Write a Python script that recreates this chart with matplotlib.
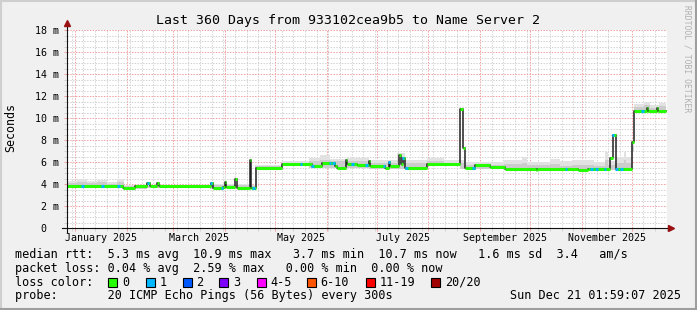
import pandas as pd
import matplotlib
matplotlib.use("Agg")
import matplotlib.pyplot as plt
from matplotlib.patches import Rectangle
from matplotlib.transforms import ScaledTranslation

plt.rcParams["font.family"] = "DejaVu Sans Mono"

W, H = 697, 310
START = pd.Timestamp("2024-12-27 04:00")   # left edge of the 360 day window
SPAN = 360

# median rtt (ms) as a step series: day offset where each level starts
seg_day = [0, 33.6, 40.8, 48, 49.8, 54, 55.2, 86.4, 87.6, 93.6, 94.8, 95.4, 100.8, 102,
           109.5, 110.4, 113.1, 129, 147, 153, 160.8, 162, 167.4, 168, 174, 181.2, 181.8,
           190.8, 193.2, 193.8, 198.9, 200.1, 201.6, 202.5, 216, 235.8, 237.6, 238.8,
           244.8, 253.8, 262.8, 281.4, 282, 306.6, 312.6, 325.8, 327.3, 329.1, 339, 340.2,
           348, 348.6, 354, 354.6]
seg_ms = [3.78, 3.67, 3.78, 4.1, 3.78, 4.1, 3.8, 4.06, 3.66, 3.75, 4.2, 3.75, 4.5, 3.65,
          6.15, 3.66, 5.42, 5.82, 5.66, 5.9, 5.64, 5.42, 6.2, 5.8, 5.73, 6.1, 5.64,
          5.42, 6.03, 5.64, 6.6, 5.8, 6.33, 5.42, 5.82, 10.8, 7.25, 5.45,
          5.7, 5.58, 5.4, 5.27, 5.4, 5.27, 5.4, 6.35, 8.5, 5.4, 7.8, 10.67,
          10.9, 10.67, 10.9, 10.67]
end_day = 359.5

# samples where 1 of 20 pings was lost
loss1_day = [9.3, 21.3, 30.9, 48.6, 86.4, 93, 111.9, 140.4, 147.3, 157.8, 159.9, 171.3,
             179.7, 190.2, 193.2, 201.6, 203.7, 243.9, 299.4, 314.7, 317.7, 322.8, 327.6,
             329.7, 332.7, 345.3]
loss1_ms = [3.78, 3.78, 3.78, 4.1, 4.06, 3.66, 3.66, 5.82, 5.66, 5.9, 5.9, 5.8,
            5.73, 5.64, 6.03, 6.33, 5.42, 5.45, 5.4, 5.4, 5.4, 5.4, 8.5,
            5.4, 5.4, 10.67]

# smoke (spread of the 20 pings)
smoke_day = [0, 6, 12, 18, 24, 30, 34, 48, 86, 94.5, 95.5, 110, 113, 129, 145, 152, 158,
             168, 181, 198, 203, 216, 226, 236, 239, 262, 273, 276, 290, 296, 303, 316,
             322.8, 324.6, 329, 334, 335.4, 339, 340.2, 346, 350, 355]
smoke_top = [4.3, 4.45, 4.25, 4.4, 4.2, 4.45, 3.95, 3.95, 4.0, 5.0, 4.0, 3.9, 5.72, 6.05,
             6.35, 6.6, 6.3, 6.35, 6.2, 6.8, 6.2, 6.33, 6.2, 6.2, 6.03, 6.2, 6.5, 6.03,
             6.3, 6.05, 6.2, 6.03, 6.9, 6.1, 6.5, 6.9, 6.5, 7.8, 11.3, 11.5, 11.2, 11.4]
smoke_mid = [4.1, 4.2, 4.05, 4.15, 4.0, 4.2, 3.85, 3.85, 3.9, 4.3, 3.9, 3.8, 5.6, 5.95,
             6.05, 6.2, 6.05, 6.1, 5.9, 6.2, 5.9, 6.05, 5.95, 5.9, 5.75, 5.8, 5.9, 5.7,
             5.8, 5.65, 5.75, 5.6, 6.2, 5.75, 5.9, 6.2, 5.9, 7.5, 11.0, 11.2, 10.95, 11.1]
smoke_low = [3.6, 3.62, 3.6, 3.62, 3.6, 3.6, 3.55, 3.6, 3.55, 3.6, 3.6, 3.55, 5.3, 5.7,
             5.5, 5.5, 5.5, 5.5, 5.35, 5.35, 5.3, 5.7, 5.7, 5.4, 5.35, 5.3, 5.3, 5.25,
             5.25, 5.2, 5.25, 5.25, 5.25, 5.25, 5.25, 5.25, 5.25, 7.0, 10.5, 10.5, 10.5,
             10.5]

y_ticks = [0, 2, 4, 6, 8, 10, 12, 14, 16, 18]
y_labels = ["0", "2 m", "4 m", "6 m", "8 m", "10 m", "12 m", "14 m", "16 m", "18 m"]
month_labels = ["January 2025", "March 2025", "May 2025", "July 2025",
                "September 2025", "November 2025"]

loss_names = ["0", "1", "2", "3", "4-5", "6-10", "11-19", "20/20"]
loss_colors = ["#26ff00", "#00b8ff", "#0059ff", "#7e00ff", "#ff00ff", "#ff5500",
               "#ff0000", "#a10000"]
loss_box_x = [108, 146, 183, 219, 257, 307, 366, 431]
loss_text_x = [122, 160, 196, 233, 270, 320, 380, 445]

MINOR = "#d2d2d2"
MAJOR = "#f0a0a0"
ARROW = "#9a1010"


def fx(x):
    return x / W


def fy(y):
    return 1 - y / H


def day_of(ts):
    return (ts - START) / pd.Timedelta(days=1)


fig = plt.figure(figsize=(W / 100, H / 100), dpi=100, facecolor="#f0f0f0")
ax = fig.add_axes([fx(67), fy(228), 600 / W, 198 / H])
ax.set_facecolor("white")
ax.set_xlim(0, SPAN)
ax.set_ylim(0, 18)
for s in ax.spines.values():
    s.set_visible(False)

# grid: months (major) / mondays (minor), 2 m / 0.5 m
months = pd.date_range("2025-01-01", "2025-12-01", freq="MS")
month_pos = [day_of(m) for m in months]
mondays = pd.date_range(START.normalize(), START + pd.Timedelta(days=SPAN), freq="W-MON")
ax.set_xticks(month_pos, labels=[])
ax.set_xticks([day_of(m) for m in mondays], minor=True)
ax.set_yticks(y_ticks, labels=y_labels)
ax.set_yticks([v / 2 for v in range(37)], minor=True)
ax.grid(which="minor", color=MINOR, lw=0.72, ls=(0, (1.4, 1.4)))
ax.grid(which="major", color=MAJOR, lw=0.72, ls=(0, (1.4, 1.4)))
ax.set_axisbelow(True)
ax.tick_params(which="major", length=2, width=0.72, color=MAJOR, pad=3.5,
               labelsize=7.2, labelcolor="black")
ax.tick_params(which="minor", length=2, width=0.72, color=MINOR)
zero = ax.get_yticklabels()[0]
zero.set_transform(zero.get_transform() + ScaledTranslation(-13 / 100, 0, fig.dpi_scale_trans))

# smoke
sx = smoke_day + [end_day]
ax.fill_between(sx, smoke_low + smoke_low[-1:], smoke_top + smoke_top[-1:], step="post",
                color="#e2e2e2", lw=0, zorder=1)
ax.fill_between(sx, smoke_low + smoke_low[-1:], smoke_mid + smoke_mid[-1:], step="post",
                color="#cccccc", lw=0, zorder=1.1)

# median line: dark step line, green (0 loss) levels on top
ax.step(seg_day + [end_day], seg_ms + seg_ms[-1:], where="post", color="#202020",
        lw=1.1, zorder=3)
ax.hlines(seg_ms, seg_day, seg_day[1:] + [end_day], color=loss_colors[0], lw=2.2, zorder=4)
ax.hlines(loss1_ms, [d - 0.8 for d in loss1_day], [d + 0.8 for d in loss1_day],
          color=loss_colors[1], lw=2.2, zorder=5)

# axes with arrows
ax.plot([-5 / 600, 1 + 3 / 600], [0, 0], transform=ax.transAxes, color="#101010",
        lw=0.8, clip_on=False, zorder=6)
ax.plot([0, 0], [-4 / 198, 1 + 5 / 198], transform=ax.transAxes, color="#101010",
        lw=0.8, clip_on=False, zorder=6)
ax.plot([1 + 3.5 / 600], [0], marker=">", ms=5, color=ARROW, transform=ax.transAxes,
        clip_on=False, zorder=7)
ax.plot([0], [1 + 7 / 198], marker="^", ms=5, color=ARROW, transform=ax.transAxes,
        clip_on=False, zorder=7)

# month labels centred in their month
for i, lab in zip(range(0, 12, 2), month_labels):
    nxt = month_pos[i + 1] if i + 1 < len(month_pos) else day_of(pd.Timestamp("2026-01-01"))
    mid = (month_pos[i] + nxt) / 2
    ax.text(mid, -13 / 198, lab, transform=ax.get_xaxis_transform(), ha="center",
            va="baseline", fontsize=7.2)

fig.text(fx(348), fy(24), "Last 360 Days from 933102cea9b5 to Name Server 2",
         ha="center", va="baseline", fontsize=9.5)
fig.text(fx(11), fy(128), "Seconds", rotation=90, ha="center", va="center", fontsize=8.4)
fig.text(fx(687), fy(5), "RRDTOOL / TOBI OETIKER", rotation=270, ha="center", va="top",
         fontsize=5.8, color="#b0b0b0")

lines = [
    "median rtt:  5.3 ms avg  10.9 ms max   3.7 ms min  10.7 ms now   1.6 ms sd  3.4   am/s",
    "packet loss: 0.04 % avg  2.59 % max   0.00 % min  0.00 % now",
    "loss color:",
    "probe:       20 ICMP Echo Pings (56 Bytes) every 300s",
]
for y, txt in zip([258.3, 271.8, 285.5, 299], lines):
    fig.text(fx(15), fy(y), txt, ha="left", va="baseline", fontsize=8.5)
fig.text(fx(681), fy(299), "Sun Dec 21 01:59:07 2025", ha="right", va="baseline",
         fontsize=8.5)
for bx, tx, name, col in zip(loss_box_x, loss_text_x, loss_names, loss_colors):
    fig.add_artist(Rectangle((fx(bx), fy(286.5)), 9 / W, 9 / H, transform=fig.transFigure,
                             facecolor=col, edgecolor="black", lw=0.8))
    fig.text(fx(tx), fy(285.5), name, ha="left", va="baseline", fontsize=8.5)

# 3d style border
fig.add_artist(plt.Line2D([0, 1], [fy(1), fy(1)], color="#cfcfcf", lw=1.5))
fig.add_artist(plt.Line2D([fx(1), fx(1)], [0, 1], color="#cfcfcf", lw=1.5))
fig.add_artist(plt.Line2D([0, 1], [fy(309), fy(309)], color="#9e9e9e", lw=1.5))
fig.add_artist(plt.Line2D([fx(696), fx(696)], [0, 1], color="#9e9e9e", lw=1.5))

fig.savefig("out.png", dpi=100, facecolor=fig.get_facecolor())
